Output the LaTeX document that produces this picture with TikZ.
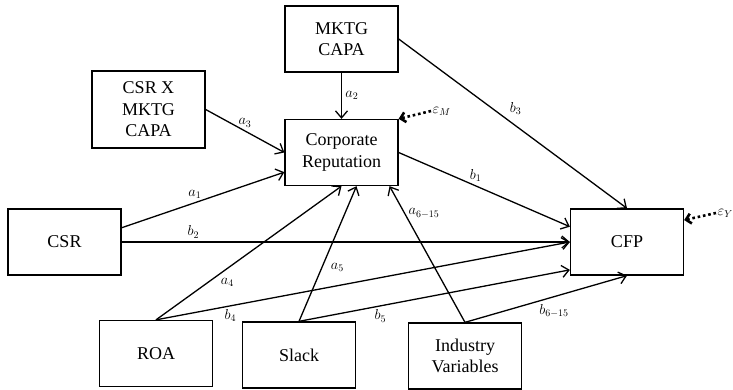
\documentclass[tikz,border=0pt]{standalone}
\usepackage{fontspec}
\setmainfont{Liberation Serif}
\usepackage{tikz}
\usetikzlibrary{positioning}
\usetikzlibrary{arrows.meta}
\tikzset{edge/.style = {->,> = {Straight Barb[length=7pt,width=12pt]}}}
\tikzset{err/.style = {->,> = {Straight Barb[length=5pt,width=10pt]},line width=2.6pt,dash pattern=on 2.6pt off 2.8pt}}

\begin{document}
\begin{tikzpicture}[x=1pt,y=1pt,line width=1.3pt,main node/.style={rectangle,draw,align=center,minimum width=113pt,minimum height=66pt,font=\fontsize{18}{21.6}\selectfont}]
    \useasboundingbox (0,0) rectangle (733,390);
            \node[main node] (capa) at (341.5,351) {MKTG\\CAPA};
            \node[main node,minimum height=77pt] (csrx) at (148.5,280.5) {CSR X\\MKTG\\CAPA};
            \node[main node] (cr) at (341.5,237.5) {Corporate\\Reputation};
            \node[main node] (csr) at (64.5,148) {CSR};
            \node[main node] (cfp) at (627,148) {CFP};
            \node[main node] (roa) at (156,36.5) {ROA};
            \node[main node] (slack) at (299,35) {Slack};
            \node[main node] (ind) at (465,34) {Industry\\Variables};
            \node[anchor=west,inner sep=1pt,font=\fontsize{14.4}{17}\selectfont] (epsM) at (431,279) {$\varepsilon_M$};
            \node[anchor=west,inner sep=1pt,font=\fontsize{14.4}{17}\selectfont] (epsY) at (716,177) {$\varepsilon_Y$};
            \begin{scope}[every node/.style={font=\fontsize{14.4}{17}\selectfont}]
                \draw[edge] (capa) -- node[right] {$a_2$} (cr);
                \draw[edge] (csrx.east) -- node[above] {$a_3$} (cr.west);
                \draw[edge] (csr.14) -- node[above,pos=0.45] {$a_1$} (cr.199);
                \draw[edge] (csr.east) -- node[above,pos=0.16] {$b_2$} (cfp.west);
                \draw[edge] (cr.east) -- node[above,pos=0.45] {$b_1$} (cfp.165);
                \draw[edge] (capa.east) -- node[above right,pos=0.47] {$b_3$} (cfp.north);
                \draw[edge] (roa.north) -- node[right=9pt,pos=0.28] {$a_4$} (cr.south);
                \draw[edge] (roa.north) -- node[below,pos=0.18] {$b_4$} (cfp.west);
                \draw[edge] (slack.north) -- node[right=5pt,pos=0.4] {$a_5$} (cr.-66);
                \draw[edge] (slack.north) -- node[below,pos=0.3] {$b_5$} (cfp.206);
                \draw[edge] (ind.north) -- node[right,pos=0.8] {$a_{6-15}$} (cr.-35);
                \draw[edge] (ind.north) -- node[below=4pt,pos=0.55] {$b_{6-15}$} (cfp.south);
            \end{scope}
            % error terms
            \draw[err] (epsM.west) -- (cr.north east);
            \draw[err] (epsY.west) -- (cfp.21);
        \end{tikzpicture}
\end{document}
